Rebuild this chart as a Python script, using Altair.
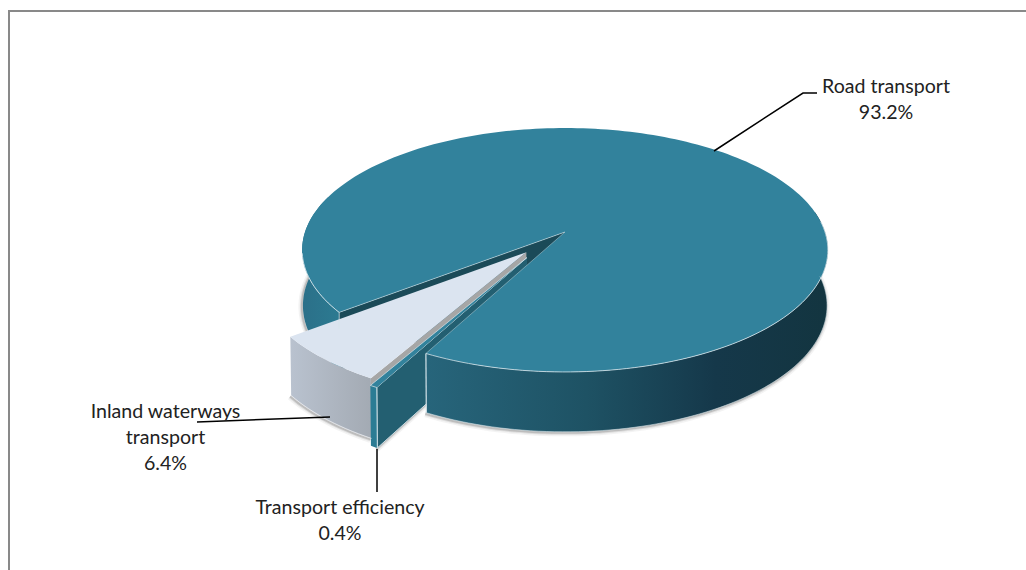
import math
import altair as alt
import pandas as pd

# Shares of transport investment, in clockwise order starting at the road slice
categories = ["Road transport", "Transport efficiency", "Inland waterways transport"]
shares = [93.2, 0.4, 6.4]
label_lines = [["Road transport", "93.2%"],
               ["Transport efficiency", "0.4%"],
               ["Inland waterways", "transport", "6.4%"]]

W, H = 1026, 570

# View model of the tilted pie
CX, CY = 565.0, 232.0
AX, BY, TILT = 260.0, 119.3, 0.1475
START = 52.2
EXPLODE = {"Road transport": (0.0, 0.0),
           "Transport efficiency": (-0.142, 0.208),
           "Inland waterways transport": (-0.145, 0.165)}


def project(theta, r, off):
    """Map a disc position (degrees clockwise from the front) to the page."""
    u = -math.sin(math.radians(theta)) * r + off[0]
    v = math.cos(math.radians(theta)) * r + off[1]
    w = 1 - TILT * v
    return CX + AX * u / w, CY + BY * v / w


def drop(p):
    """Same point on the underside of the disc."""
    return CX + (p[0] - CX) * 0.997, p[1] + 55 + 0.035 * (p[1] - CY)


def arc(t0, t1, off):
    n = max(2, int(abs(t1 - t0) / 1.5))
    return [project(t0 + (t1 - t0) * i / n, 1, off) for i in range(n + 1)]


# Slice extents derived from the shares
spans = {}
a = START
for c, s in zip(categories, shares):
    spans[c] = (a, a + s * 3.6)
    a += s * 3.6
road = spans["Road transport"]
eff = spans["Transport efficiency"]
eff = (eff[0] - 360, eff[1] - 360)
inl = spans["Inland waterways transport"]
inl = (inl[0] - 360, inl[1] - 360)
off_e = EXPLODE["Transport efficiency"]
off_i = EXPLODE["Inland waterways transport"]

x_scale = alt.Scale(domain=[0, W], range=[0, W])
y_scale = alt.Scale(domain=[H, 0], range=[H, 0])


def frame(points):
    return pd.DataFrame({"x": [p[0] for p in points],
                         "y": [p[1] for p in points],
                         "i": range(len(points))})


def enc(chart):
    return chart.encode(
        x=alt.X("x:Q", scale=x_scale, axis=None),
        y=alt.Y("y:Q", scale=y_scale, axis=None),
        order="i:Q",
    )


def poly(points, fill):
    return enc(alt.Chart(frame(points)).mark_line(fill=fill, stroke=None, strokeWidth=0, clip=False))


def edge(points, color="#cfe0e8", width=1.0, opacity=1.0):
    return enc(alt.Chart(frame(points)).mark_line(color=color, strokeWidth=width, opacity=opacity))


def hgrad(stops):
    return alt.Gradient(gradient="linear", x1=0, x2=1, y1=0, y2=0,
                        stops=[alt.GradientStop(offset=o, color=c) for o, c in stops])


def wall(t0, t1, off):
    top = arc(t0, t1, off)
    return top + [drop(p) for p in reversed(top)]


def radial(theta, off):
    apex = project(0, 0, off)
    rim = project(theta, 1, off)
    return [apex, rim, drop(rim), drop(apex)]


layers = []

# Soft ground shadow below the lower rims
for w_, op in [(7, 0.10), (4, 0.20), (2, 0.40)]:
    for pts in ([drop(p) for p in arc(road[1] - 360, -100, (0, 0))],
                [drop(p) for p in arc(road[0], 100, (0, 0))],
                [drop(p) for p in arc(inl[0], inl[1], off_i)],
                [drop(project(eff[0], 1, off_e)), drop(project(0, 0, off_e))]):
        layers.append(edge([(x - 1, y + 1) for x, y in pts], "#8c8c8c", w_, op))

# Main pie back wall and the walls of the pulled-out slices that sit behind its top face
layers.append(poly(radial(road[0], (0, 0)), "#1b4a58"))
layers.append(poly(wall(road[0], 108, (0, 0)),
                   hgrad([(0, "#2b7089"), (1, "#2c7a91")])))
layers.append(poly(radial(inl[0], off_i), "#a6a6a6"))
layers.append(poly(radial(eff[0], off_e), "#235f71"))
pe0 = project(eff[0], 1, off_e)
layers.append(edge([project(0, 0, off_e), pe0, drop(pe0), drop(project(0, 0, off_e))], "#d5e4ea", 0.9))

# Main pie front wall and top face
layers.append(poly(wall(road[1] - 360, -100, (0, 0)),
                   hgrad([(0, "#27657b"), (0.4, "#1e5264"), (0.72, "#15384a"), (1, "#133540")])))
layers.append(poly([project(0, 0, (0, 0))]
                   + arc(road[0], road[1], (0, 0)), "#32829c"))

# Inland waterways slice
layers.append(poly(wall(inl[0], inl[1], off_i),
                   hgrad([(0, "#b9c2cf"), (1, "#a3aab3")])))
layers.append(poly([project(0, 0, off_i)] + arc(inl[0], inl[1], off_i), "#dbe4f0"))

# Transport efficiency slice
layers.append(poly(wall(eff[0], eff[1], off_e), "#2b7c94"))
layers.append(poly([project(0, 0, off_e)] + arc(eff[0], eff[1], off_e), "#32829c"))

# Pale bevel lines along the visible rims
layers.append(edge(arc(road[1] - 360, -95, (0, 0)), "#d5e4ea", 1.0, 0.8))
layers.append(edge(arc(road[0], 80, (0, 0)), "#d5e4ea", 1.0, 0.9))
p = project(road[1], 1, (0, 0))
layers.append(edge([p, drop(p)], "#d5e4ea", 1.2))
layers.append(edge([p, project(0, 0, (0, 0))], "#d5e4ea", 0.7, 0.6))
layers.append(edge([project(road[0], 1, (0, 0)), project(0, 0, (0, 0))], "#d5e4ea", 0.8, 0.7))
p = project(road[0], 1, (0, 0))
layers.append(edge([p, (p[0], p[1] + 16)], "#d5e4ea", 0.8, 0.8))
layers.append(edge([drop(p) for p in arc(road[1] - 360, -95, (0, 0))], "#d5e4ea", 0.8, 0.7))
layers.append(edge([drop(p) for p in arc(inl[0], inl[1], off_i)], "#e6e9ee", 0.8))
pe1 = project(eff[1], 1, off_e)
layers.append(edge([project(0, 0, off_e), pe1, pe0], "#d5e4ea", 0.7))
layers.append(edge([pe0, drop(pe0)], "#d5e4ea", 0.9))

# Leader lines
for pts in ([(714, 151), (803, 93), (817, 93)],
            [(197, 422), (330, 417)],
            [(377, 449), (377, 492)]):
    layers.append(edge(pts, "#000000", 1.5))

# Outer chart frame
layers.append(edge([(9, H), (9, 11), (W, 11)], "#898989", 2))

# Labels
label_x = [886, 340, 165.5]
label_y = [87, 508, 412]
rows = [{"x": lx, "y": ly + 26 * k, "t": t}
        for lx, ly, lines in zip(label_x, label_y, label_lines)
        for k, t in enumerate(lines)]
layers.append(
    alt.Chart(pd.DataFrame(rows)).mark_text(
        font="Lato", fontSize=19.6, color="#222222", align="center", baseline="middle"
    ).encode(x=alt.X("x:Q", scale=x_scale, axis=None),
             y=alt.Y("y:Q", scale=y_scale, axis=None),
             text="t:N")
)

chart = alt.layer(*layers).properties(
    width=W, height=H, padding=0, autosize=alt.AutoSizeParams(type="none"),
    background="white",
).configure_view(stroke=None)

chart.save("out.html", embed_options={"renderer": "svg", "actions": False})
